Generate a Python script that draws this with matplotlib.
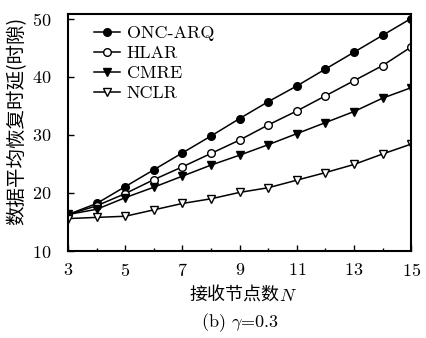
import matplotlib
matplotlib.use('Agg')
import matplotlib.pyplot as plt
from matplotlib.ticker import FixedLocator, MultipleLocator

plt.rcParams['font.family'] = ['cmr10', 'Noto Sans CJK SC', 'DejaVu Sans']
plt.rcParams['mathtext.fontset'] = 'cm'
plt.rcParams['axes.formatter.use_mathtext'] = True

n = [3, 4, 5, 6, 7, 8, 9, 10, 11, 12, 13, 14, 15]
onc_arq = [16.3, 18.2, 21.1, 24.0, 26.9, 29.8, 32.8, 35.7, 38.4, 41.3, 44.2, 47.1, 50.0]
hlar = [16.3, 17.8, 19.9, 22.3, 24.5, 26.8, 29.1, 31.7, 34.1, 36.7, 39.3, 41.9, 45.1]
cmre = [16.3, 17.2, 19.2, 21.0, 22.9, 24.8, 26.5, 28.3, 30.2, 32.1, 34.0, 36.3, 38.1]
nclr = [15.6, 15.8, 16.0, 17.1, 18.2, 19.0, 20.1, 20.9, 22.2, 23.5, 24.9, 26.7, 28.4]
x_ticks = [3, 5, 7, 9, 11, 13, 15]

fig = plt.figure(figsize=(4.26, 3.38), dpi=100)
ax = fig.add_axes([0.16, 0.257, 0.805, 0.702])

ax.plot(n, onc_arq, '-o', color='black', mfc='black', ms=5.5, lw=1.1, label='ONC-ARQ')
ax.plot(n, hlar, '-o', color='black', mfc='white', ms=5.5, lw=1.1, label='HLAR')
ax.plot(n, cmre, '-v', color='black', mfc='black', ms=6, lw=1.1, label='CMRE')
ax.plot(n, nclr, '-v', color='black', mfc='white', ms=6, lw=1.1, label='NCLR')

ax.set_xlim(3, 15)
ax.set_ylim(10, 50.8)
ax.xaxis.set_major_locator(FixedLocator(x_ticks))
ax.xaxis.set_minor_locator(MultipleLocator(1))
ax.yaxis.set_major_locator(MultipleLocator(10))
ax.tick_params(which='both', direction='in', labelsize=13, width=1.0)
ax.tick_params(which='major', length=4)
ax.tick_params(which='minor', length=2)
ax.tick_params(axis='x', pad=8)
ax.tick_params(axis='y', pad=12)
for s in ax.spines.values():
    s.set_linewidth(1.5)

# x label: Chinese part and italic N drawn side by side
fig.text(0.655, 0.124, '接收节点数', ha='right', va='center', fontsize=13,
         family=['Noto Sans CJK SC', 'DejaVu Sans'])
fig.text(0.655, 0.124, r'$N$', ha='left', va='center', fontsize=13)

ax.set_ylabel('数据平均恢复时延(时隙)', fontsize=14,
              family=['Noto Sans CJK SC', 'DejaVu Sans'])
ax.yaxis.set_label_coords(-0.118, 0.55)

leg = ax.legend(loc='upper left', bbox_to_anchor=(0.05, 0.99), frameon=False,
                fontsize=13, handlelength=1.4, handletextpad=0.4,
                labelspacing=0.25, borderaxespad=0.1)

fig.text(0.563, 0.044, r'(b) $\gamma$=0.3', ha='center', va='center', fontsize=13)

fig.savefig('out.png', dpi=100)
